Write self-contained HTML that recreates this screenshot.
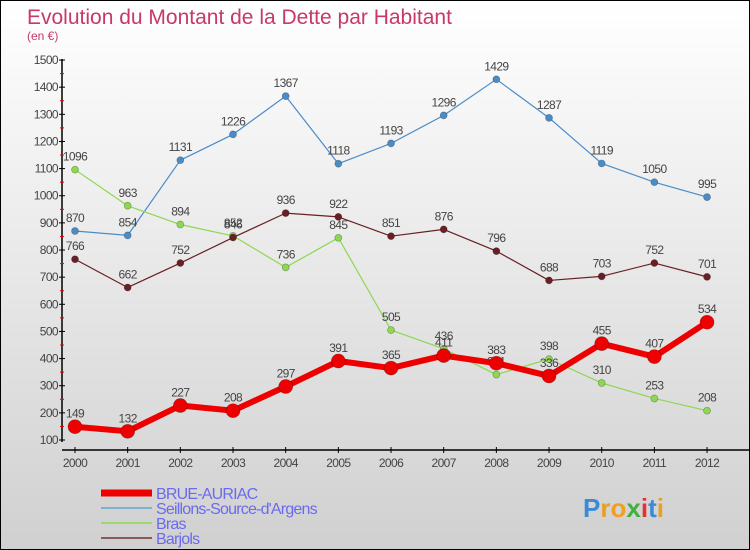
<!DOCTYPE html>
<html><head><meta charset="utf-8"><style>
body{margin:0}
#c{position:relative;width:748px;height:548px;border:1px solid #000;background:linear-gradient(#fff,#d0d0d0);overflow:hidden;font-family:"Liberation Sans",sans-serif}
svg text{font-family:"Liberation Sans",sans-serif}
</style></head><body>
<div id="c">
<svg id="s" width="748" height="548">
<text x="26" y="23" font-size="21" fill="#c8386a">Evolution du Montant de la Dette par Habitant</text>
<text x="26" y="39" font-size="12" fill="#c8386a">(en €)</text>
</svg></div>
<script>
const years=[2000,2001,2002,2003,2004,2005,2006,2007,2008,2009,2010,2011,2012];
const brue=[149,132,227,208,297,391,365,411,383,336,455,407,534];
const seil=[870,854,1131,1226,1367,1118,1193,1296,1429,1287,1119,1050,995];
const bras=[1096,963,894,852,736,845,505,436,341,398,310,253,208];
const barj=[766,662,752,846,936,922,851,876,796,688,703,752,701];
const yTicks=[100,200,300,400,500,600,700,800,900,1000,1100,1200,1300,1400,1500];
const NS='http://www.w3.org/2000/svg';
const s=document.getElementById('s');
const X=i=>74+i*52.67, Y=v=>439-(v-100)*0.2714;
function el(t,a,p){const e=document.createElementNS(NS,t);for(const k in a)e.setAttribute(k,a[k]);(p||s).appendChild(e);return e;}
let ya=el('line',{x1:61,y1:58,x2:61,y2:441,stroke:'#000','stroke-width':1.5});


let xa=el('line',{x1:61,y1:449,x2:748,y2:449,stroke:'#000','stroke-width':1.5});


yTicks.forEach(v=>{
 el('line',{x1:58,y1:Y(v),x2:64,y2:Y(v),stroke:'#000'});
 if(v<1500)el('line',{x1:59,y1:Y(v+50),x2:63,y2:Y(v+50),stroke:'#e00'});
 const t=el('text',{x:57,y:Y(v)+4,'font-size':12,'text-anchor':'end',fill:'#444','letter-spacing':'-0.6'});
 t.textContent=v;
 
 
});
years.forEach((y,i)=>{
 el('line',{x1:X(i),y1:446,x2:X(i),y2:452,stroke:'#000'});
 const t=el('text',{x:X(i),y:466,'font-size':12,'text-anchor':'middle',fill:'#444','letter-spacing':'-0.6'});
 t.textContent=y;
 
 
});
function series(vals,color,w,r,name){
 const g=el('g',{});
 
 
 const pl=el('polyline',{points:vals.map((v,i)=>X(i)+','+Y(v)).join(' '),fill:'none',stroke:color,'stroke-width':w,'stroke-linejoin':'round'},g);
 
 
 vals.forEach((v,i)=>{
  const c=el('circle',{cx:X(i),cy:Y(v),r:r,fill:color,stroke:'rgba(0,0,0,0.3)','stroke-width':0.7},g);
  
  
  const t=el('text',{x:X(i),y:Y(v)-9,'font-size':12,'text-anchor':'middle',fill:'#444','letter-spacing':'-0.6'},g);
  t.textContent=v;
  
  
 });
}
series(seil,'#4a8cc8',1.2,3.5,'seillons');
series(bras,'#8cd850',1.2,3.5,'bras');
series(barj,'#6a1f24',1.2,3.5,'barjols');
series(brue,'#ee0000',6,7,'brue-auriac');
const leg=[['BRUE-AURIAC','#ee0000',7],['Seillons-Source-d\'Argens','#7fb0d0',2],['Bras','#9ad870',2],['Barjols','#8a5a5a',2]];
leg.forEach((l,i)=>{
 const y=492+i*15;
 const ln=el('line',{x1:100,y1:y,x2:151,y2:y,stroke:l[1],'stroke-width':l[2]});
 
 
 const t=el('text',{x:155,y:y+6,'font-size':16,fill:'#6a6af0','letter-spacing':'-0.8'});
 t.textContent=l[0];
 
 
});
const lg=el('text',{x:582,y:516,'font-size':26,'font-weight':'bold',fill:'#f0a020'});


const lc=['#3a8ad8','#e8a020','#f0a020','#40b040','#e83030','#3a8ad8','#e8a020'];
'Proxiti'.split('').forEach((ch,i)=>{const ts=el('tspan',{fill:lc[i]},lg);ts.textContent=ch;});
</script>
</body></html>
